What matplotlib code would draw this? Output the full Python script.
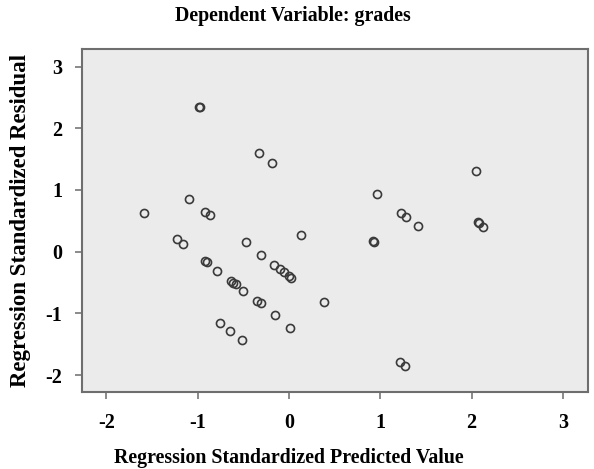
import matplotlib
matplotlib.use("Agg")
import matplotlib.pyplot as plt

# Data: (standardized predicted, standardized residual)
pred = [-0.98, -0.97, -0.33, -0.19, -1.09, -1.59, -0.92, -0.86, 0.13,
        -1.23, -1.16, -0.47, -0.31, -0.92, -0.90, -0.79, -0.16, -0.10,
        -0.05, 0.00, 0.02, -0.63, -0.61, -0.58, -0.50, -0.35, -0.31,
        0.38, -0.15, -0.75, -0.64, 0.01, -0.51,
        2.05, 0.96, 1.23, 1.28, 1.41, 0.92, 0.93, 2.07, 2.08, 2.13,
        1.22, 1.27]
resid = [2.35, 2.34, 1.60, 1.44, 0.86, 0.62, 0.65, 0.60, 0.27,
         0.21, 0.12, 0.15, -0.05, -0.15, -0.17, -0.31, -0.21, -0.28,
         -0.33, -0.40, -0.42, -0.48, -0.50, -0.53, -0.63, -0.80, -0.84,
         -0.82, -1.03, -1.16, -1.28, -1.23, -1.43,
         1.31, 0.94, 0.62, 0.56, 0.42, 0.17, 0.16, 0.48, 0.47, 0.40,
         -1.79, -1.85]

xticks = [-2, -1, 0, 1, 2, 3]
yticks = [-2, -1, 0, 1, 2, 3]

title = "Dependent Variable: grades"
xlabel = "Regression Standardized Predicted Value"
ylabel = "Regression Standardized Residual"

plt.rcParams['font.family'] = ['Liberation Serif', 'DejaVu Serif']
plt.rcParams['font.weight'] = 'bold'

fig = plt.figure(figsize=(5.94, 4.69), dpi=100)
ax = fig.add_axes([0.1375, 0.1648, 0.8530, 0.7301])
ax.set_facecolor('#ebebeb')

ax.plot(pred, resid, linestyle='none', marker='o', ms=5.8, mfc='none',
        mec='#3a3a3a', mew=1.2)

ax.set_xlim(-2.27, 3.28)
ax.set_ylim(-2.27, 3.28)
ax.set_xticks(xticks)
ax.set_yticks(yticks)
ax.set_xticklabels([str(t) for t in xticks], fontsize=14.5, fontweight='bold')
ax.set_yticklabels([str(t) for t in yticks], fontsize=14.5, fontweight='bold')
ax.tick_params(direction='out', length=5, width=1.2, color='#777777')
ax.tick_params(axis='x', pad=10)
ax.tick_params(axis='y', pad=9)

for s in ax.spines.values():
    s.set_color('#6e6e6e')
    s.set_linewidth(1.5)

fig.text(0.493, 0.966, title, ha='center', va='center', fontsize=14.3,
         fontweight='bold')
fig.text(289 / 594, (469 - 462.5) / 469, xlabel, ha='center', va='baseline',
         fontsize=14.3, fontweight='bold')
ax.set_ylabel(ylabel, fontsize=16.5, fontweight='bold', labelpad=10)

fig.savefig('out.png', dpi=100)
